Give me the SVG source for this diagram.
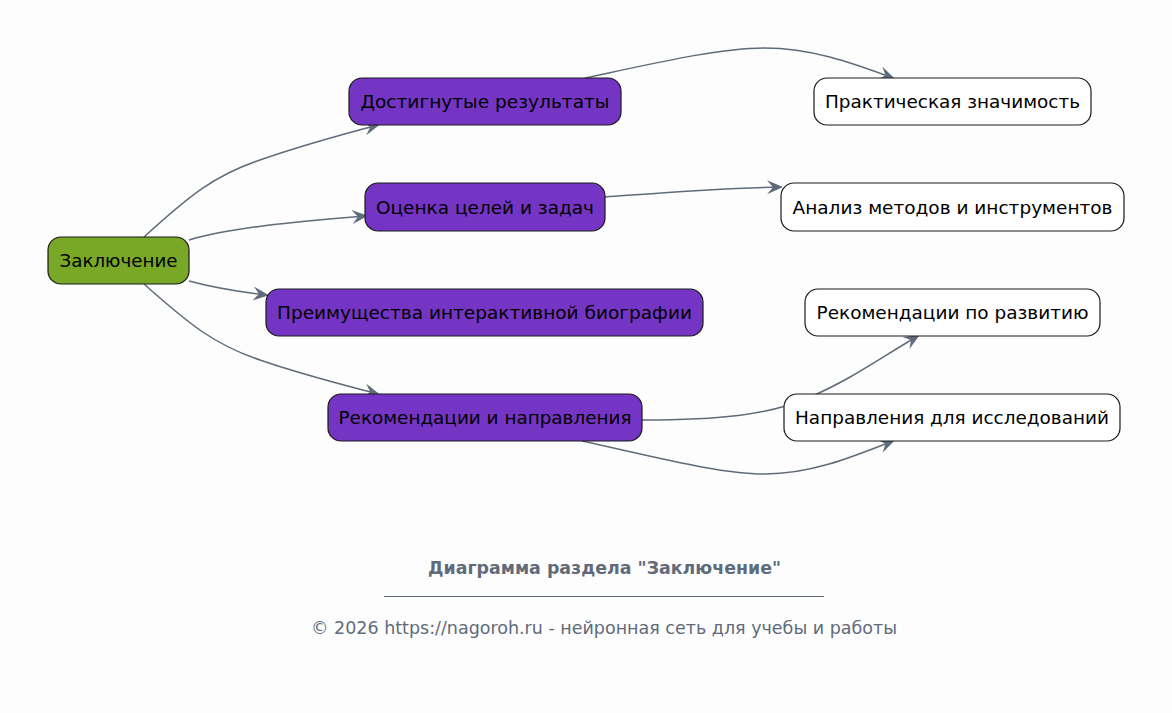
<svg xmlns="http://www.w3.org/2000/svg" width="1172" height="713" viewBox="0 0 1172 713">
<style>
.n rect{stroke:#1a1a1a;stroke-width:1.2}
.p rect{fill:#7535c4}
.g rect{fill:#79a827}
.w rect{fill:#ffffff}
.n text{font-family:"DejaVu Sans",sans-serif;font-size:18.3px;fill:#000;text-anchor:middle;dominant-baseline:central}
#edges path{fill:none;stroke:#5f6b7a;stroke-width:1.5;marker-end:url(#arr)}
.ft{font-family:"DejaVu Sans",sans-serif;fill:#5f6b7a;text-anchor:middle}
</style>
<defs>
<marker id="arr" viewBox="0 0 16 14" refX="14" refY="7" markerWidth="16" markerHeight="14" markerUnits="userSpaceOnUse" orient="auto">
<path d="M0,0 L16,7 L0,14 L6,7 z" fill="#5f6b7a"/>
</marker>
</defs>
<rect width="1172" height="713" fill="#fdfdfd"/>
<g id="edges">
<path d="M144,237 C190,195 215,175 260,160 C300,146 340,135 378,125"/>
<path d="M189,240 C230,228 290,222 366,216"/>
<path d="M189,281 C215,288 240,292 267,295"/>
<path d="M144,284 C190,325 215,345 260,360 C300,374 340,384 378,394"/>
<path d="M585,78 C660,62 720,48 765,48 C810,48 850,62 893,78"/>
<path d="M605,197 C660,193 720,188 781,187"/>
<path d="M642,420 C720,420 770,415 810,397 C850,380 880,358 918,336"/>
<path d="M582,441 C660,458 720,474 765,474 C810,474 850,458 893,441"/>
</g>
<g id="n0" class="n g"><rect x="48" y="237" width="141" height="47" rx="13"/><text x="118.5" y="260.5" textLength="118" lengthAdjust="spacingAndGlyphs">Заключение</text></g>
<g id="n1" class="n p"><rect x="349" y="78" width="272" height="47" rx="13"/><text x="485" y="101.5" textLength="249" lengthAdjust="spacingAndGlyphs">Достигнутые результаты</text></g>
<g id="n2" class="n p"><rect x="365" y="183" width="240" height="48" rx="13"/><text x="485" y="207" textLength="218" lengthAdjust="spacingAndGlyphs">Оценка целей и задач</text></g>
<g id="n3" class="n p"><rect x="266" y="289" width="437" height="47" rx="13"/><text x="484.5" y="312.5" textLength="415" lengthAdjust="spacingAndGlyphs">Преимущества интерактивной биографии</text></g>
<g id="n4" class="n p"><rect x="328" y="394" width="314" height="47" rx="13"/><text x="485" y="417.5" textLength="293" lengthAdjust="spacingAndGlyphs">Рекомендации и направления</text></g>
<g id="n5" class="n w"><rect x="814" y="78" width="277" height="47" rx="13"/><text x="952.5" y="101.5" textLength="255" lengthAdjust="spacingAndGlyphs">Практическая значимость</text></g>
<g id="n6" class="n w"><rect x="781" y="183" width="343" height="48" rx="13"/><text x="952.5" y="207" textLength="320" lengthAdjust="spacingAndGlyphs">Анализ методов и инструментов</text></g>
<g id="n7" class="n w"><rect x="805" y="289" width="295" height="47" rx="13"/><text x="952.5" y="312.5" textLength="272" lengthAdjust="spacingAndGlyphs">Рекомендации по развитию</text></g>
<g id="n8" class="n w"><rect x="784" y="394" width="336" height="47" rx="13"/><text x="952" y="417.5" textLength="314" lengthAdjust="spacingAndGlyphs">Направления для исследований</text></g>
<g id="footer">
<text class="ft" x="604.5" y="574" font-size="17" font-weight="bold" textLength="353" lengthAdjust="spacingAndGlyphs">Диаграмма раздела "Заключение"</text>
<line x1="384" y1="596.5" x2="824" y2="596.5" stroke="#5f6b7a" stroke-width="1"/>
<text class="ft" x="604" y="634" font-size="17.5" textLength="586" lengthAdjust="spacingAndGlyphs">© 2026 https://nagoroh.ru - нейронная сеть для учебы и работы</text>
</g>
</svg>
